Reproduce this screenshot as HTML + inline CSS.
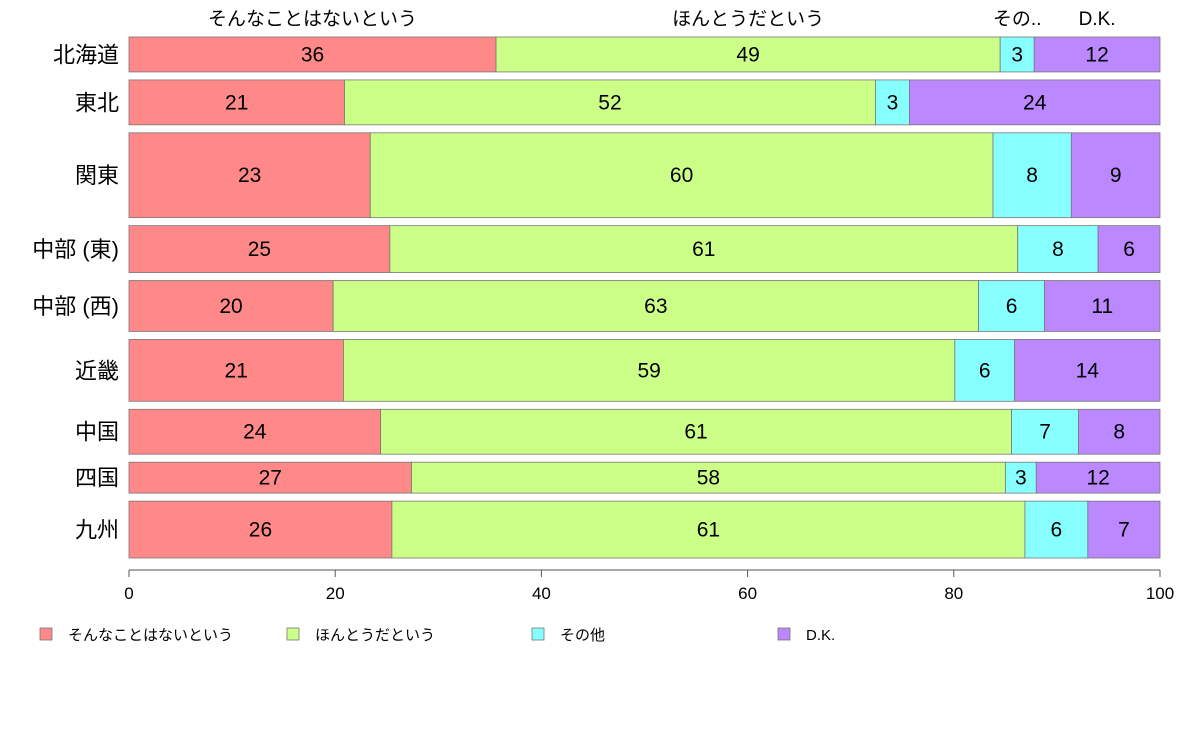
<!DOCTYPE html>
<html><head><meta charset="utf-8"><style>
body{margin:0;background:#fff;width:1188px;height:736px;overflow:hidden}
svg text{font-family:"Liberation Sans","Noto Sans CJK JP",sans-serif;fill:#000}
</style></head><body>
<svg id="chart" width="1188" height="736"></svg>
<script>
const regions=["北海道","東北","関東","中部 (東)","中部 (西)","近畿","中国","四国","九州"];
const weights=[35,45,85,47,51,62,45,31,57];
const seriesNames=["そんなことはないという","ほんとうだという","その他","D.K."];
const s1=[35.6,20.9,23.4,25.3,19.8,20.8,24.4,27.4,25.5];
const s2=[48.9,51.5,60.4,60.9,62.6,59.3,61.2,57.6,61.4];
const s3=[3.3,3.3,7.6,7.8,6.4,5.8,6.5,3.0,6.1];
const s4=[12.2,24.3,8.6,6.0,11.2,14.1,7.9,12.0,7.0];
const topLabels=["そんなことはないという","ほんとうだという","その..","D.K."];
const ticks=[0,20,40,60,80,100];
const colors=["#FF8888","#CCFF88","#88FFFF","#BB88FF"];
const svg=document.getElementById('chart');
const NS="http://www.w3.org/2000/svg";
function mk(t,a,p){const e=document.createElementNS(NS,t);for(const k in a)e.setAttribute(k,a[k]);(p||svg).appendChild(e);return e;}
const x0=129,x1=1160,yTop=37,yBot=558,gap=8;
const xs=v=>x0+(x1-x0)*v/100;
const totalW=weights.reduce((a,b)=>a+b,0);
const avail=(yBot-yTop)-gap*(regions.length-1);
const series=[s1,s2,s3,s4];
let y=yTop;
regions.forEach((r,i)=>{
  const h=avail*weights[i]/totalW;
  const g=mk('g',{});
  
  
  let acc=0;
  series.forEach((s,j)=>{
    const v=s[i];
    const rect=mk('rect',{x:xs(acc),y:y,width:xs(acc+v)-xs(acc),height:h,fill:colors[j],stroke:'#777','stroke-width':0.8},g);
    
    
    const t=mk('text',{x:(xs(acc)+xs(acc+v))/2,y:y+h/2+7,'text-anchor':'middle','font-size':21},g);
    
    
    t.textContent=Math.round(v);
    if(i===0){
      const tl=mk('text',{x:(xs(acc)+xs(acc+v))/2,y:25,'text-anchor':'middle','font-size':19});
      
      
      tl.textContent=topLabels[j];
    }
    acc+=v;
  });
  const lab=mk('text',{x:119,y:y+h/2+8,'text-anchor':'end','font-size':22});
  
  
  lab.textContent=r;
  y+=h+gap;
});
const ax=mk('g',{});


mk('line',{x1:x0,x2:x1,y1:570,y2:570,stroke:'#555'},ax);
ticks.forEach(t=>{
  mk('line',{x1:xs(t),x2:xs(t),y1:570,y2:577,stroke:'#555'},ax);
  const tt=mk('text',{x:xs(t),y:599,'text-anchor':'middle','font-size':17},ax);
  
  
  tt.textContent=t;
});
const lx=[40,287,532,778];
seriesNames.forEach((n,j)=>{
  const g=mk('g',{});
  
  
  mk('rect',{x:lx[j],y:628,width:12,height:12,fill:colors[j],stroke:'#777','stroke-width':0.8},g);
  const t=mk('text',{x:lx[j]+28,y:640,'font-size':15},g);
  t.textContent=n==="その他"?"その他":n;
});
</script>
</body></html>
